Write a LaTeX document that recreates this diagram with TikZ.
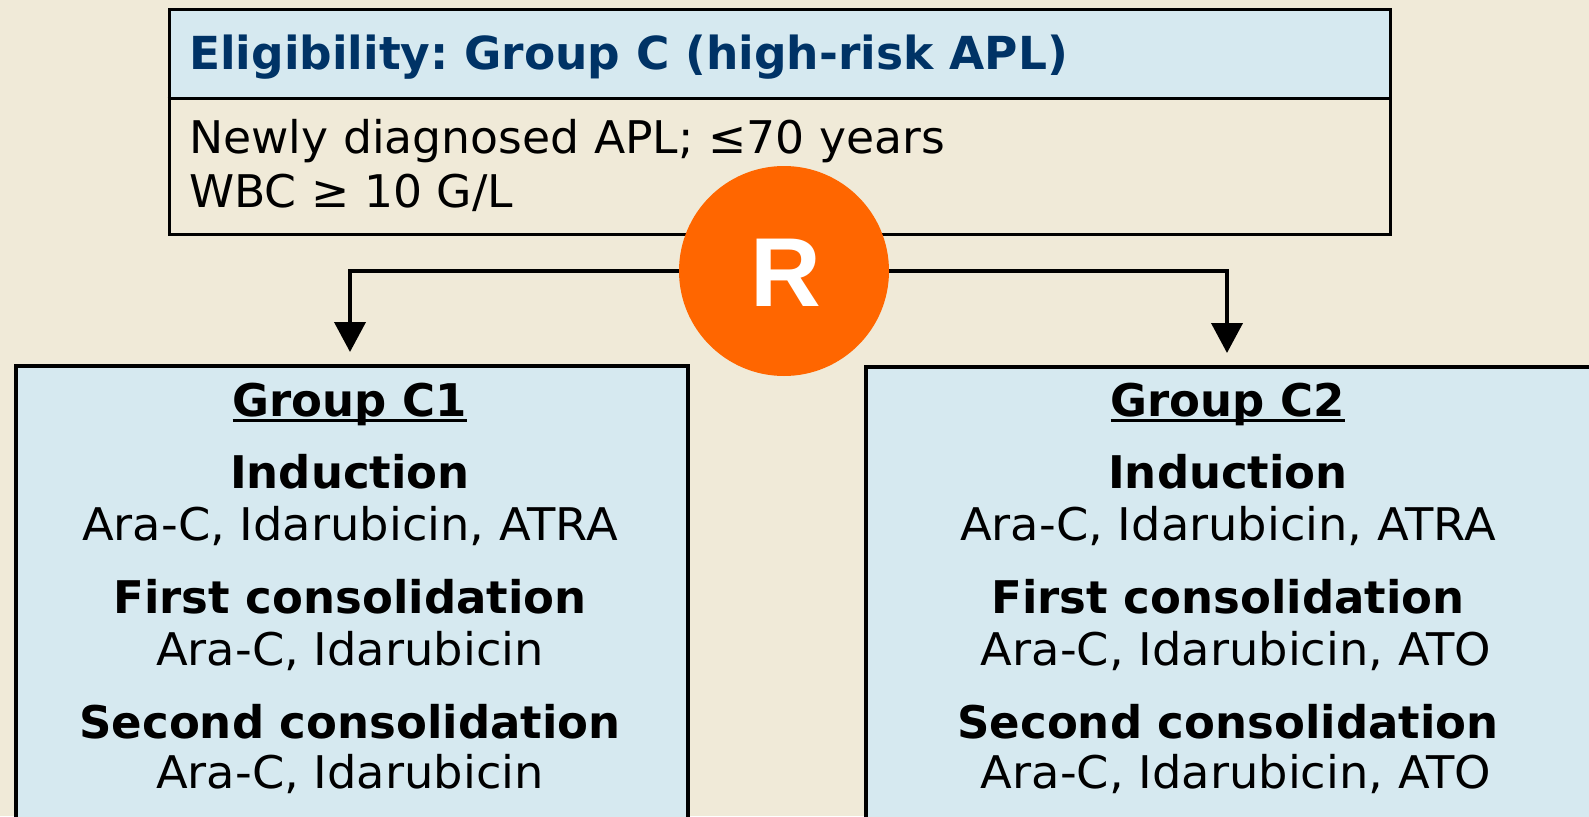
\documentclass[tikz,border=0pt]{standalone}
\usepackage{fontspec}
\setmainfont{DejaVu Sans}
\newfontfamily\regfont{DejaVu Sans}[FakeStretch=1.03]
\newfontfamily\critfont{DejaVu Sans}[FakeStretch=1.015]
\newfontfamily\rfont{Liberation Sans}
\usetikzlibrary{arrows.meta}
\definecolor{paper}{RGB}{240,234,216}
\definecolor{paleblue}{RGB}{214,233,240}
\definecolor{navy}{RGB}{0,51,102}
\definecolor{rorange}{RGB}{255,102,0}
\frenchspacing
\tikzset{
  bodytext/.style={inner sep=0pt, font=\regfont\fontsize{45}{54}\selectfont},
  crittext/.style={inner sep=0pt, font=\critfont\fontsize{45}{54}\selectfont},
  headtext/.style={inner sep=0pt, font=\fontsize{45}{54}\selectfont\bfseries},
  groupbox/.style={draw=black, line width=4pt, fill=paleblue, anchor=north west, inner sep=0pt},
  conn/.style={draw=black, line width=4pt, -{Triangle[width=31pt,length=30pt]}},
}
\begin{document}
\begin{tikzpicture}[x=1pt,y=-1pt]
  \useasboundingbox (0,0) rectangle (1589,816);
  \clip (0,0) rectangle (1589,816);
  \fill[paper] (0,0) rectangle (1589,816);

  % eligibility box: shaded header over a plain body
  \fill[paleblue] (167.5,8.5) rectangle (1388.5,98);
  \node[draw=black, line width=3pt, anchor=north west, inner sep=0pt,
        minimum width=1221pt, minimum height=224pt] (elig) at (167.5,8.5) {};
  \draw[line width=3pt] (elig.west |- 0,98) -- (elig.east |- 0,98);
  \node[headtext, font=\fontsize{45.5}{54}\selectfont\bfseries, text=navy, anchor=base west]
    (eligtitle) at (189,70) {Eligibility: Group C (high-risk APL)};
  \node[crittext, anchor=base west] (crit1) at (189,153) {Newly diagnosed APL; ≤70 years};
  \node[crittext, anchor=base west] (crit2) at (189,207) {WBC ≥ 10 G/L};

  % the two treatment arms
  \node[groupbox, minimum width=672pt, minimum height=480pt] (c1) at (14,364) {};
  \node[groupbox, minimum width=740pt, minimum height=480pt] (c2) at (864,365) {};

  % randomisation connectors
  \coordinate (r) at (784,271);
  \draw[conn] (r) -| ([yshift=12pt]c1.north -| 350,0);
  \draw[conn] (r) -| ([yshift=12pt]c2.north -| 1227,0);
  \node[circle, fill=rorange, minimum size=210pt, inner sep=0pt] (R) at (r) {};
  \node[inner sep=0pt, anchor=base, text=white,
        font=\rfont\bfseries\fontsize{98}{98}\selectfont] (Rlabel) at (786,306) {R};

  % arm C1
  \node[headtext, anchor=base] (c1title) at (350,416) {Group C1};
  \draw[line width=3pt] ([yshift=-4pt]c1title.base west) -- ([yshift=-4pt]c1title.base east);
  \node[headtext, anchor=base] (c1ind) at (350,488) {Induction};
  \node[bodytext, anchor=base] (c1indd) at (350,540) {Ara-C, Idarubicin, ATRA};
  \node[headtext, anchor=base] (c1fc) at (350,613) {First consolidation};
  \node[bodytext, anchor=base] (c1fcd) at (350,665) {Ara-C, Idarubicin};
  \node[headtext, anchor=base] (c1sc) at (350,738) {Second consolidation};
  \node[bodytext, anchor=base] (c1scd) at (350,788) {Ara-C, Idarubicin};

  % arm C2
  \node[headtext, anchor=base] (c2title) at (1228,416) {Group C2};
  \draw[line width=3pt] ([yshift=-4pt]c2title.base west) -- ([yshift=-4pt]c2title.base east);
  \node[headtext, anchor=base] (c2ind) at (1228,488) {Induction};
  \node[bodytext, anchor=base] (c2indd) at (1228,540) {Ara-C, Idarubicin, ATRA};
  \node[headtext, anchor=base] (c2fc) at (1228,613) {First consolidation};
  \node[bodytext, anchor=base] (c2fcd) at (1236,665) {Ara-C, Idarubicin, ATO};
  \node[headtext, anchor=base] (c2sc) at (1228,738) {Second consolidation};
  \node[bodytext, anchor=base] (c2scd) at (1236,788) {Ara-C, Idarubicin, ATO};
\end{tikzpicture}
\end{document}
